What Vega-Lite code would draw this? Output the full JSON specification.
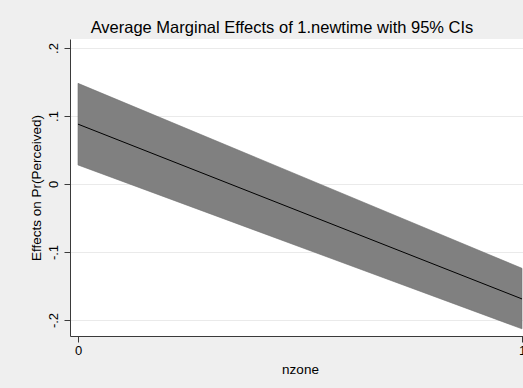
{
  "$schema": "https://vega.github.io/schema/vega-lite/v6.json",
  "width": 460,
  "height": 297,
  "autosize": {"type": "none"},
  "padding": {"left": 70, "top": 39, "right": 0, "bottom": 52},
  "background": "#efefef",
  "config": {
    "font": "Liberation Sans",
    "view": {"fill": "white", "stroke": null},
    "axis": {
      "domainColor": "#3a3a3a",
      "tickColor": "#3a3a3a",
      "labelColor": "black",
      "titleColor": "black",
      "labelFontSize": 13,
      "titleFontSize": 13.5,
      "titleFontWeight": "normal",
      "gridColor": "#eaeaea",
      "gridWidth": 1
    }
  },
  "title": {
    "text": "Average Marginal Effects of 1.newtime with 95% CIs",
    "fontSize": 16.5,
    "fontWeight": "normal",
    "color": "black",
    "offset": 3,
    "dx": -18
  },
  "data": {
    "values": [
      {"nzone": 0, "est": 0.088, "lo": 0.028, "hi": 0.148},
      {"nzone": 1, "est": -0.169, "lo": -0.213, "hi": -0.124}
    ]
  },
  "layer": [
    {
      "mark": {"type": "area", "color": "#808080", "stroke": "#6e6e6e", "strokeWidth": 0.6, "opacity": 1},
      "encoding": {
        "x": {
          "field": "nzone",
          "type": "quantitative",
          "scale": {"domain": [-0.018, 1.018], "nice": false, "zero": false},
          "axis": {
            "values": [0, 1],
            "format": "d",
            "grid": false,
            "tickSize": 6,
            "labelPadding": 2,
            "title": "nzone",
            "titlePadding": 5
          }
        },
        "y": {
          "field": "lo",
          "type": "quantitative",
          "scale": {"domain": [-0.2235, 0.2132], "nice": false, "zero": false},
          "axis": {
            "values": [-0.2, -0.1, 0, 0.1, 0.2],
            "labelExpr": "datum.value == 0 ? '0' : replace(replace(format(datum.value, '.1f'), '0.', '.'), '\u2212', '-')",
            "labelAngle": 270,
            "labelAlign": "center",
            "labelBaseline": "bottom",
            "tickSize": 6,
            "labelPadding": 4,
            "grid": true,
            "title": "Effects on Pr(Perceived)",
            "titlePadding": 4
          }
        },
        "y2": {"field": "hi"}
      }
    },
    {
      "mark": {"type": "line", "color": "black", "strokeWidth": 1},
      "encoding": {
        "x": {"field": "nzone", "type": "quantitative"},
        "y": {"field": "est", "type": "quantitative"}
      }
    }
  ]
}
